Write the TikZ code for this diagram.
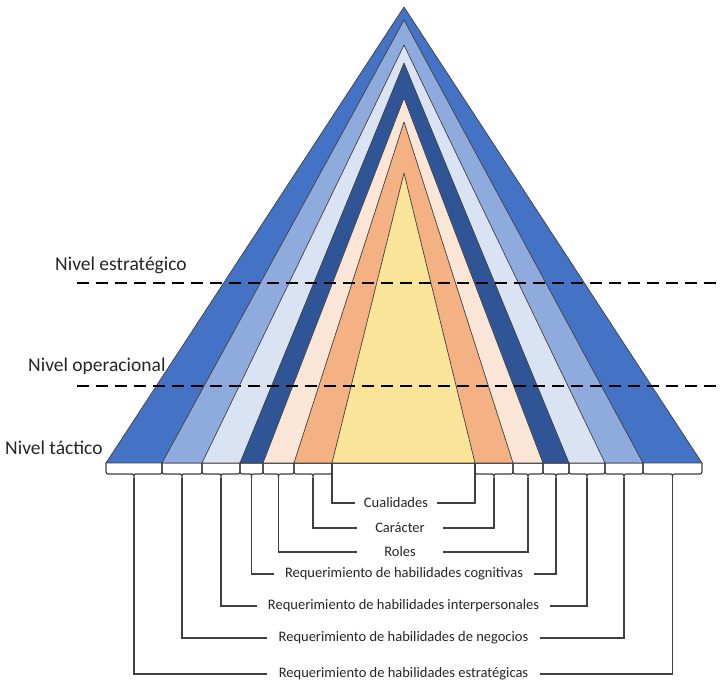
\documentclass[tikz,border=0pt]{standalone}
\usepackage{fontspec}
\setmainfont{Carlito}
\definecolor{cA}{HTML}{4472C4}
\definecolor{cB}{HTML}{8FAADC}
\definecolor{cC}{HTML}{DAE3F3}
\definecolor{cD}{HTML}{2F5597}
\definecolor{cE}{HTML}{FBE5D6}
\definecolor{cF}{HTML}{F4B183}
\definecolor{cG}{HTML}{FAE49A}
\definecolor{ink}{HTML}{262626}
\begin{document}
\begin{tikzpicture}[x=1pt,y=-1pt,
  tri/.style={draw=black!75, line width=0.7pt, line join=round},
  bracebox/.style={draw=black!75, line width=1.2pt, line join=round},
  conn/.style={draw=black!75, line width=1.2pt},
  lab/.style={inner sep=0pt, text=ink, font=\fontsize{14.5}{16}\selectfont},
  lvl/.style={inner sep=0pt, anchor=base west, text=ink, font=\fontsize{19.5}{22}\selectfont},
  levelline/.style={draw=black, line width=2.4pt, dash pattern=on 12pt off 7pt}]
\useasboundingbox (0,0) rectangle (724,684);
\fill[white] (0,0) rectangle (724,684);
% base corners
\foreach \n/\x in {0/106,1/162,2/202,3/240,4/263,5/294,6/332}
  \coordinate (L\n) at (\x,463);
\foreach \n/\x in {0/702,1/643,2/605,3/569,4/543,5/513,6/475}
  \coordinate (R\n) at (\x,463);
\foreach \n/\y in {0/7,1/20,2/45,3/63,4/98,5/122,6/173}
  \coordinate (A\n) at (404,\y);
% nested triangles
\foreach \n/\c in {0/cA,1/cB,2/cC,3/cD,4/cE,5/cF,6/cG}
  \filldraw[tri, fill=\c] (L\n) -- (A\n) -- (R\n) -- cycle;
% level lines
\coordinate (dS1) at (77,283); \coordinate (dE1) at (720,283);
\coordinate (dS2) at (77,386); \coordinate (dE2) at (720,386);
\draw[levelline] (dS1) -- (dE1);
\draw[levelline] (dS2) -- (dE2);
\node[lvl] (nest) at (55,271) {Nivel estratégico};
\node[lvl] (nope) at (28,372) {Nivel operacional};
\node[lvl] (ntac) at (5,455) {Nivel táctico};
% braces under each band
\foreach \a/\b in {106/162,162/202,202/240,240/263,263/294,294/332,
                   475/513,513/543,543/569,569/605,605/643,643/702}{
  \pgfmathsetmacro{\m}{(\a+\b)/2}
  \draw[bracebox] (\a,463) -- (\a,469) .. controls (\a,474) .. (\a+4,474)
     -- (\m-4,474) .. controls (\m,474) .. (\m,478)
     .. controls (\m,474) .. (\m+4,474) -- (\b-4,474)
     .. controls (\b,474) .. (\b,469) -- (\b,463);
}
\foreach \n/\x in {0/134,1/182,2/221,3/251.5,4/278.5,5/313}
  \coordinate (TL\n) at (\x,478);
\foreach \n/\x in {0/672.5,1/624,2/587,3/556,4/528,5/494}
  \coordinate (TR\n) at (\x,478);
% labels
\node[lab, minimum width=82pt] (cual) at (396,503) {Cualidades};
\node[lab, minimum width=86pt] (cara) at (400,528) {Carácter};
\node[lab, minimum width=86pt] (role) at (400,552) {Roles};
\node[lab, minimum width=260pt] (cogn) at (404,574) {Requerimiento de habilidades cognitivas};
\node[lab, minimum width=293pt] (inte) at (403.5,606) {Requerimiento de habilidades interpersonales};
\node[lab, minimum width=273pt] (nego) at (403.5,638) {Requerimiento de habilidades de negocios};
\node[lab, minimum width=273pt] (estr) at (403.5,674) {Requerimiento de habilidades estratégicas};
% connectors
\draw[conn] (L6) |- (cual.west);
\draw[conn] (R6) |- (cual.east);
\draw[conn] (TL5) |- (cara.west);
\draw[conn] (TR5) |- (cara.east);
\draw[conn] (TL4) |- (role.west);
\draw[conn] (TR4) |- (role.east);
\draw[conn] (TL3) |- (cogn.west);
\draw[conn] (TR3) |- (cogn.east);
\draw[conn] (TL2) |- (inte.west);
\draw[conn] (TR2) |- (inte.east);
\draw[conn] (TL1) |- (nego.west);
\draw[conn] (TR1) |- (nego.east);
\draw[conn] (TL0) |- (estr.west);
\draw[conn] (TR0) |- (estr.east);
\end{tikzpicture}
\end{document}
